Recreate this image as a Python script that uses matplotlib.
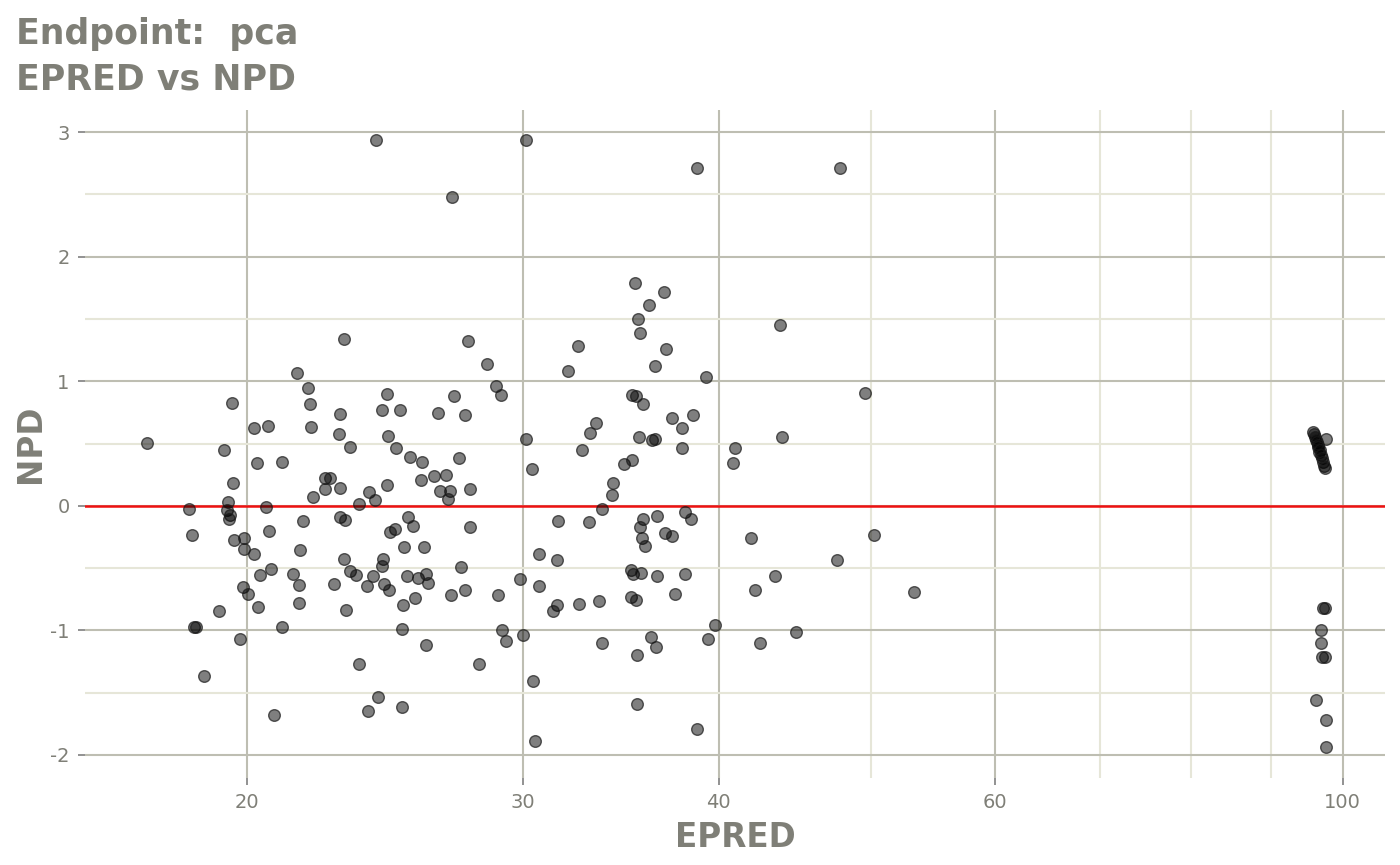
import numpy as np
import matplotlib
matplotlib.use("Agg")
import matplotlib.pyplot as plt
from matplotlib.ticker import FixedLocator, NullFormatter

matplotlib.rcParams["font.family"] = "DejaVu Sans"
matplotlib.rcParams["axes.unicode_minus"] = False

TITLE_1 = "Endpoint:  pca"
TITLE_2 = "EPRED vs NPD"

X_MAJOR = [20, 30, 40, 60, 100]
X_MINOR = [50, 70, 80, 90]
Y_MAJOR = [-2, -1, 0, 1, 2, 3]
Y_MINOR = [-1.5, -0.5, 0.5, 1.5, 2.5]

# EPRED (x, log scale) and NPD (y)
EPRED = [
    21.52, 21.87, 21.94, 19.57, 20.21, 20.63, 21.97, 22.93, 22.90, 23.06,
    17.27, 19.33, 20.30, 21.05, 19.60, 19.45, 18.37, 19.42, 19.51, 19.48,
    20.57, 21.72, 18.44, 20.66, 19.62, 19.92, 19.92, 20.21, 21.62, 20.72,
    20.39, 21.39, 21.59, 19.89, 20.03, 20.33, 21.59, 19.19, 18.50, 18.55,
    21.05, 19.80, 18.78, 20.81, 22.42, 22.59, 22.42, 22.04, 22.93, 22.93,
    22.72,
    24.17, 30.12, 27.03, 27.67, 28.45, 28.83, 29.04, 24.56, 27.11, 24.38,
    25.04, 26.48, 27.55, 24.60, 30.12, 23.27, 24.89, 25.41, 25.86, 27.31,
    30.40, 24.56, 25.82, 26.32, 26.78, 23.92, 24.13, 23.58, 26.55, 26.95,
    26.87, 27.75, 23.10, 25.33, 25.52, 24.85, 24.67, 27.75, 25.19, 25.93,
    23.06, 24.42, 24.38, 23.27, 23.48, 24.07, 23.85, 24.45, 24.63, 25.30,
    25.71, 26.01, 26.09, 27.39, 27.55, 26.99, 25.60, 25.15, 28.92, 29.86,
    23.13, 25.11, 26.01, 29.09, 29.26, 29.99, 23.58, 28.12, 30.44, 24.24,
    23.89, 25.11, 30.53, 30.71, 30.71,
    38.73, 35.36, 36.90, 36.09, 35.51, 35.62, 32.52, 37.00, 32.04, 36.42,
    39.24, 35.20, 35.41, 35.78, 37.34, 38.51, 37.89, 33.39, 33.10, 35.57,
    36.26, 36.42, 32.72, 37.89, 40.96, 40.84, 34.79, 35.20, 34.23, 34.18,
    33.69, 31.58, 33.05, 35.78, 36.52, 38.06, 38.40, 35.62, 35.72, 35.88,
    36.95, 37.34, 31.53, 35.15, 35.25, 35.67, 36.52, 38.06, 31.53, 31.35,
    32.57, 33.54, 35.15, 35.41, 37.50, 39.77, 39.36, 33.69, 36.20, 36.47,
    35.46, 35.46, 38.73,
    47.79, 43.75, 49.58, 43.88, 41.93, 50.23, 47.58, 43.43, 42.18, 53.28,
    44.78, 42.49,
    95.7, 95.9, 97.6, 96.0, 96.2, 96.3, 96.4, 96.4, 96.6, 96.7,
    96.8, 97.0, 97.1, 97.3, 97.4,
    97.1, 97.4, 96.8, 96.8, 97.0, 97.4, 96.1, 97.6, 97.6,
]
NPD = [
    1.067, 0.947, 0.819, 0.827, 0.626, 0.642, 0.634, 0.738, 0.578, 1.340,
    0.506, 0.449, 0.345, 0.353, 0.185, 0.032, -0.024, -0.032, -0.072, -0.104,
    -0.008, -0.120, -0.233, -0.201, -0.273, -0.257, -0.345, -0.385, -0.353, -0.506,
    -0.554, -0.546, -0.634, -0.650, -0.706, -0.811, -0.779, -0.843, -0.971, -0.971,
    -0.971, -1.067, -1.364, -1.677, 0.225, 0.225, 0.136, 0.072, 0.144, -0.088,
    -0.626,
    2.937, 2.937, 2.480, 1.324, 1.140, 0.963, 0.891, 0.899, 0.883, 0.771,
    0.771, 0.746, 0.730, 0.562, 0.538, 0.474, 0.466, 0.393, 0.353, 0.385,
    0.297, 0.169, 0.209, 0.241, 0.249, 0.112, 0.048, 0.016, 0.120, 0.120,
    0.056, 0.136, -0.112, -0.088, -0.161, -0.185, -0.209, -0.169, -0.329, -0.329,
    -0.425, -0.425, -0.482, -0.522, -0.554, -0.562, -0.642, -0.626, -0.674, -0.562,
    -0.578, -0.546, -0.618, -0.490, -0.674, -0.714, -0.738, -0.795, -0.714, -0.586,
    -0.835, -0.987, -1.116, -0.995, -1.084, -1.035, -1.268, -1.268, -1.404, -1.533,
    -1.645, -1.613, -1.886, -0.385, -0.642,
    2.713, 1.790, 1.718, 1.613, 1.501, 1.389, 1.284, 1.260, 1.083, 1.124,
    1.035, 0.891, 0.883, 0.819, 0.706, 0.730, 0.626, 0.666, 0.586, 0.554,
    0.530, 0.538, 0.449, 0.466, 0.466, 0.345, 0.337, 0.369, 0.185, 0.088,
    -0.024, -0.120, -0.128, -0.104, -0.080, -0.048, -0.104, -0.169, -0.257, -0.321,
    -0.217, -0.241, -0.433, -0.514, -0.546, -0.538, -0.562, -0.546, -0.795, -0.843,
    -0.787, -0.762, -0.730, -0.754, -0.706, -0.955, -1.067, -1.100, -1.051, -1.132,
    -1.196, -1.589, -1.790,
    2.713, 1.453, 0.907, 0.554, -0.257, -0.233, -0.433, -0.562, -0.674, -0.690,
    -1.011, -1.100,
    0.594, 0.580, 0.538, 0.554, 0.530, 0.514, 0.490, 0.474, 0.433, 0.450,
    0.409, 0.385, 0.353, 0.321, 0.305,
    -0.819, -0.819, -0.995, -1.100, -1.212, -1.212, -1.557, -1.717, -1.934,
]

TXT = "#7f7f77"
MAJ = "#bebeb2"
MIN = "#e6e6d8"

fig = plt.figure(figsize=(14, 8.65), dpi=100)
ax = fig.add_axes([85 / 1400, 1 - 778 / 865, 1300 / 1400, 668 / 865])

ax.set_xscale("log")
ax.set_xlim(15.77, 106.4)
ax.set_ylim(-2.185, 3.177)

ax.xaxis.set_major_locator(FixedLocator(X_MAJOR))
ax.xaxis.set_minor_locator(FixedLocator(X_MINOR))
ax.set_xticks(X_MAJOR, [str(v) for v in X_MAJOR])
ax.xaxis.set_minor_formatter(NullFormatter())
ax.set_yticks(Y_MAJOR, [str(v) for v in Y_MAJOR])
ax.set_yticks(Y_MINOR, minor=True)

ax.grid(True, which="minor", color=MIN, lw=1.5, zorder=0)
ax.grid(True, which="major", color=MAJ, lw=1.5, zorder=0)
ax.set_axisbelow(True)
for s in ax.spines.values():
    s.set_visible(False)

ax.tick_params(which="major", length=5, width=1.2, color="#7f7f7f",
               labelcolor=TXT, labelsize=14, pad=6)
ax.tick_params(which="minor", length=0)

ax.axhline(0, color="#ee1111", lw=1.8, zorder=2)
ax.scatter(EPRED, NPD, s=70, facecolor=(0, 0, 0, 0.5),
           edgecolor=(0.1, 0.1, 0.1, 0.7), linewidth=1.0, zorder=3)

ax.set_xlabel("EPRED", fontsize=23.5, fontweight="bold", color=TXT, labelpad=6)
ax.set_ylabel("NPD", fontsize=23.5, fontweight="bold", color=TXT, labelpad=2)

fig.text(16 / 1400, 1 - 44 / 865, TITLE_1, fontsize=25, fontweight="bold",
         color=TXT, va="baseline", ha="left")
fig.text(16 / 1400, 1 - 90 / 865, TITLE_2, fontsize=25, fontweight="bold",
         color=TXT, va="baseline", ha="left")

fig.savefig("out.png", dpi=100)
